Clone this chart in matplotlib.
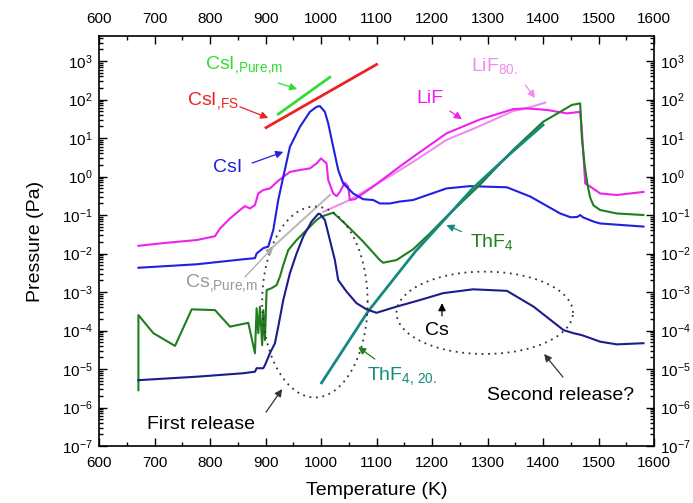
import numpy as np
import matplotlib
matplotlib.use("Agg")
import matplotlib.pyplot as plt
from matplotlib.ticker import MultipleLocator, LogLocator, NullFormatter

plt.rcParams['font.family'] = ['Liberation Sans', 'DejaVu Sans']
plt.rcParams['mathtext.fontset'] = 'custom'
plt.rcParams['mathtext.rm'] = 'Liberation Sans'
plt.rcParams['mathtext.it'] = 'Liberation Sans'
plt.rcParams['mathtext.bf'] = 'Liberation Sans:bold'
plt.rcParams['mathtext.default'] = 'regular'

# ---------------- data (temperature in K, log10 of pressure in Pa) ----------------
csi_T = [671, 776, 860, 881, 884, 896, 905, 914, 923, 932, 944, 962, 980, 992, 998, 1007,
         1013, 1022, 1031, 1040, 1058, 1076, 1094, 1106, 1124, 1142, 1166, 1226, 1268, 1335,
         1377, 1431, 1450, 1462, 1467, 1472, 1491, 1503, 1581]
csi_logp = [-2.37, -2.28, -2.15, -2.12, -2.00, -1.86, -1.82, -1.39, -0.61, -0.01, 0.77, 1.29,
            1.68, 1.81, 1.83, 1.68, 1.38, 0.77, 0.17, -0.18, -0.44, -0.59, -0.61, -0.70, -0.70,
            -0.65, -0.61, -0.31, -0.25, -0.28, -0.52, -0.96, -1.06, -1.05, -1.00, -1.06, -1.17,
            -1.22, -1.30]

lif_T = [671, 716, 776, 809, 818, 836, 854, 863, 872, 881, 887, 896, 908, 923, 944, 962, 980,
         992, 1000, 1010, 1013, 1022, 1028, 1034, 1043, 1049, 1052, 1061, 1094, 1142, 1166,
         1226, 1286, 1346, 1370, 1407, 1443, 1467, 1470, 1476, 1485, 1503, 1533, 1581]
lif_logp = [-1.80, -1.73, -1.65, -1.55, -1.35, -1.09, -0.87, -0.77, -0.83, -0.74, -0.44, -0.35,
            -0.31, -0.11, 0.12, 0.17, 0.21, 0.34, 0.47, 0.34, -0.09, -0.44, -0.51, -0.40, -0.16,
            -0.26, -0.61, -0.59, -0.26, 0.26, 0.51, 1.12, 1.48, 1.75, 1.77, 1.73, 1.64, 1.68,
            1.21, -0.18, -0.26, -0.44, -0.48, -0.40]

lif80_T = [1004, 1050, 1106, 1166, 1226, 1286, 1346, 1370, 1404]
lif80_logp = [-0.92, -0.62, -0.15, 0.38, 0.95, 1.31, 1.70, 1.77, 1.92]

thf4_T = [671, 671, 698, 737, 767, 809, 836, 869, 881, 884, 887, 890, 894, 896, 899, 902, 911,
          920, 926, 932, 941, 956, 974, 992, 1001, 1022, 1046, 1076, 1106, 1112, 1136, 1166,
          1196, 1220, 1286, 1346, 1400, 1431, 1452, 1467, 1470, 1475, 1480, 1485, 1491, 1503,
          1533, 1581]
thf4_logp = [-5.55, -3.60, -4.07, -4.40, -3.45, -3.47, -3.90, -3.80, -4.59, -3.42, -4.07, -3.38,
             -4.38, -3.47, -4.25, -2.95, -2.90, -2.82, -2.60, -2.30, -1.91, -1.65, -1.39, -1.13,
             -1.04, -0.94, -1.26, -1.69, -2.17, -2.24, -2.17, -1.89, -1.48, -1.13, -0.22, 0.69,
             1.42, 1.68, 1.86, 1.90, 1.00, 0.30, -0.20, -0.55, -0.75, -0.87, -0.96, -1.00]

thf4_20_T = [1001, 1085, 1170, 1274, 1340, 1400]
thf4_20_logp = [-5.36, -3.50, -1.95, -0.30, 0.58, 1.34]

cs_T = [671, 776, 860, 881, 884, 896, 899, 908, 917, 923, 932, 944, 956, 968, 983, 995, 998,
        1007, 1016, 1025, 1031, 1046, 1064, 1082, 1100, 1136, 1178, 1220, 1274, 1335, 1383,
        1437, 1455, 1470, 1503, 1533, 1581]
cs_logp = [-5.29, -5.20, -5.11, -5.07, -4.98, -4.98, -4.90, -4.59, -4.33, -3.90, -3.21, -2.51,
           -2.00, -1.56, -1.17, -0.97, -0.97, -1.13, -1.65, -2.17, -2.69, -2.99, -3.29, -3.45,
           -3.54, -3.38, -3.21, -3.03, -2.93, -2.97, -3.38, -3.99, -4.07, -4.12, -4.29, -4.36,
           -4.33]

csi_fs_T = [901, 998, 1100]
csi_fs_logp = [1.27, 2.07, 2.91]

csi_pure_T = [923, 1016]
csi_pure_logp = [1.62, 2.58]

cs_pure_T = [914, 1016]
cs_pure_logp = [-1.82, -0.48]

x_ticks = [600, 700, 800, 900, 1000, 1100, 1200, 1300, 1400, 1500, 1600]

# ---------------- colours ----------------
C_CSI = '#2020e0'
C_LIF = '#ee22ee'
C_LIF80 = '#f08cf0'
C_THF4 = '#1f7f1f'
C_THF4_20 = '#138a80'
C_CS = '#1c1c8c'
C_FS = '#ee2222'
C_PURE = '#33dd33'
C_CSPURE = '#bbbbbb'

fig = plt.figure(figsize=(6.93, 5.03), dpi=100)
ax = fig.add_axes([99 / 693, 57 / 503, 555 / 693, 410 / 503])


def P(v):
    return np.power(10.0, np.asarray(v, dtype=float))


lw = 1.5
ax.plot(cs_pure_T, P(cs_pure_logp), color=C_CSPURE, lw=1.5)
ax.plot(lif80_T, P(lif80_logp), color=C_LIF80, lw=lw)
ax.plot(lif_T, P(lif_logp), color=C_LIF, lw=lw)
ax.plot(csi_T, P(csi_logp), color=C_CSI, lw=lw)
ax.plot(thf4_T, P(thf4_logp), color=C_THF4, lw=lw)
ax.plot(thf4_20_T, P(thf4_20_logp), color=C_THF4_20, lw=2.0)
ax.plot(cs_T, P(cs_logp), color=C_CS, lw=lw)
ax.plot(csi_fs_T, P(csi_fs_logp), color=C_FS, lw=2.0)
ax.plot(csi_pure_T, P(csi_pure_logp), color=C_PURE, lw=2.0)

# dotted ellipses (centre T, centre log10 P, half width K, half height decades)
for (tc, lc, a, b) in [(989, -3.26, 95, 2.48), (1295, -3.54, 159, 1.07)]:
    t = np.linspace(0, 2 * np.pi, 300)
    ax.plot(tc + a * np.cos(t), 10 ** (lc + b * np.sin(t)), color='#333333', lw=1.3,
            linestyle=(0, (1, 2.6)))

ax.set_yscale('log')
ax.set_xlim(600, 1600)
ax.set_ylim(1e-7, 10 ** 3.65)
ax.set_xticks(x_ticks)
ax.xaxis.set_minor_locator(MultipleLocator(50))
ax.yaxis.set_major_locator(LogLocator(base=10, numticks=20))
ax.yaxis.set_minor_locator(LogLocator(base=10, subs=np.arange(2, 10), numticks=200))
ax.yaxis.set_minor_formatter(NullFormatter())
ax.tick_params(which='both', direction='in', top=True, right=True, labeltop=True,
               labelright=True, labelsize=11, width=1.0)
ax.tick_params(which='major', length=6)
ax.tick_params(which='minor', length=3)
ax.tick_params(axis='x', which='major', pad=7.5)
ax.tick_params(axis='y', which='major', pad=4.5)
for s in ax.spines.values():
    s.set_linewidth(1.2)

ax.set_xlabel('Temperature (K)', fontsize=14, labelpad=8)
ax.set_ylabel('Pressure (Pa)', fontsize=14, labelpad=13)

FS = 14


def label(x, lp, txt, color):
    ax.text(x, 10 ** lp, txt, color=color, fontsize=FS, ha='left', va='baseline')


def arrow(x0, l0, x1, l1, color, lw_=0.9):
    ax.annotate('', xy=(x1, 10 ** l1), xytext=(x0, 10 ** l0),
                arrowprops=dict(arrowstyle='-|>', color=color, lw=lw_, mutation_scale=11,
                                shrinkA=0, shrinkB=0))


label(791, 2.79, r'$CsI_{{,}Pure{,}m}$', C_PURE)
arrow(923, 2.43, 957, 2.27, C_PURE)
label(759, 1.86, r'$CsI_{{,}FS}$', C_FS)
arrow(854, 1.81, 905, 1.52, C_FS)
label(805, 0.12, 'CsI', C_CSI)
arrow(876, 0.35, 932, 0.64, C_CSI)
label(1172, 1.90, 'LiF', C_LIF)
arrow(1232, 1.70, 1254, 1.49, C_LIF)
label(1270, 2.75, r'$LiF_{80.}$', C_LIF80)
arrow(1368, 2.38, 1386, 2.04, C_LIF80)
label(1268, -1.82, r'$ThF_{4}$', C_THF4)
arrow(1253, -1.43, 1226, -1.26, C_THF4_20)
label(1083, -5.29, r'$ThF_{4{,}\ 20.}$', C_THF4_20)
arrow(1097, -4.74, 1067, -4.43, C_THF4)
label(755, -2.86, r'$Cs_{{,}Pure{,}m}$', '#999999')
arrow(863, -2.61, 914, -1.83, '#aaaaaa')
label(1187, -4.12, 'Cs', 'black')
arrow(1218, -3.62, 1218, -3.29, 'black')
label(1299, -5.81, 'Second release?', 'black')
arrow(1436, -5.21, 1402, -4.61, '#333333')
label(686, -6.57, 'First release', 'black')
arrow(901, -6.12, 930, -5.52, '#333333')

fig.savefig('out.png', dpi=100)
